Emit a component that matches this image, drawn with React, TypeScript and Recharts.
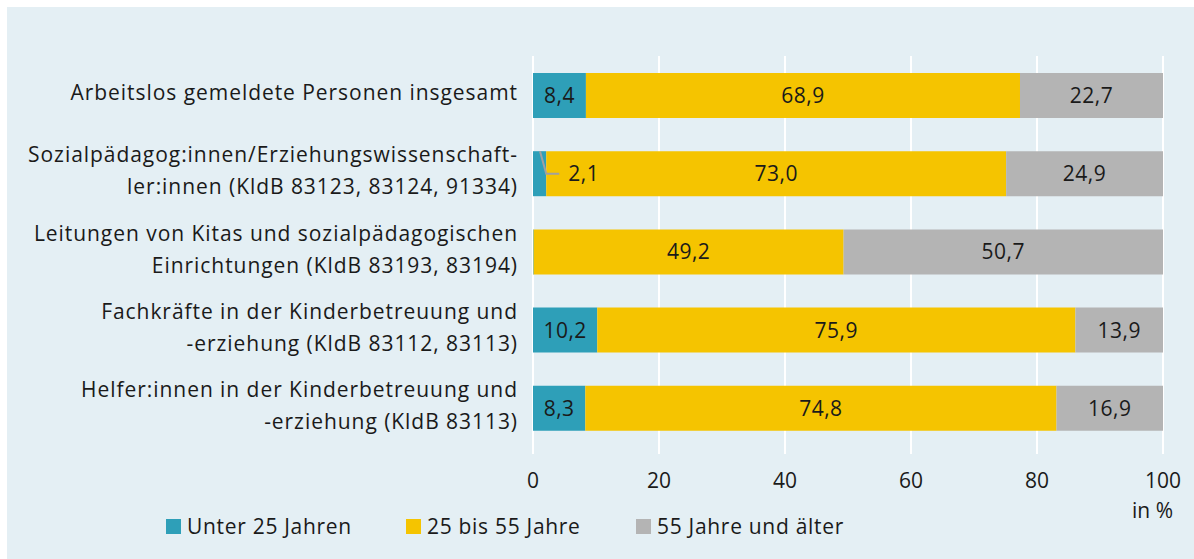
import React from "react";
import { BarChart, Bar, XAxis, YAxis, CartesianGrid, Legend, LabelList } from "recharts";

const categories: string[][] = [
  ["Arbeitslos gemeldete Personen insgesamt"],
  ["Sozialpädagog:innen/Erziehungswissenschaft-", "ler:innen (KldB 83123, 83124, 91334)"],
  ["Leitungen von Kitas und sozialpädagogischen", "Einrichtungen (KldB 83193, 83194)"],
  ["Fachkräfte in der Kinderbetreuung und", "-erziehung (KldB 83112, 83113)"],
  ["Helfer:innen in der Kinderbetreuung und", "-erziehung (KldB 83113)"],
];
const under25 = [8.4, 2.1, 0.1, 10.2, 8.3];
const mid25to55 = [68.9, 73.0, 49.2, 75.9, 74.8];
const over55 = [22.7, 24.9, 50.7, 13.9, 16.9];
const seriesNames = ["Unter 25 Jahren", "25 bis 55 Jahre", "55 Jahre und älter"];
const xTicks = [0, 20, 40, 60, 80, 100];
const unitLabel = "in %";

const COLORS = ["#2e9fb8", "#f5c400", "#b4b4b4"];
const FONT = "'Open Sans', sans-serif";
const TEXT = "#1a1a1a";

const data = categories.map((lines, i) => ({
  name: lines.join("|"),
  a: under25[i],
  b: mid25to55[i],
  c: over55[i],
}));

const fmt = (v: number) => v.toFixed(1).replace(".", ",");

const CategoryTick = (props: any) => {
  const { x, y, payload } = props;
  const lines: string[] = String(payload.value).split("|");
  const n = lines.length;
  return (
    <text x={x} y={y} textAnchor="end" fontFamily={FONT} fontSize={21} letterSpacing={0.95} fill={TEXT}>
      {lines.map((l, i) => (
        <tspan key={i} x={x} y={y + 5 + (i - (n - 1) / 2) * 32}>
          {l}
        </tspan>
      ))}
    </text>
  );
};

const InsideLabel = (props: any) => {
  const { x, y, width, height, value } = props;
  if (value < 1) return null;
  return (
    <text
      x={x + width / 2}
      y={y + height / 2}
      dy="0.36em"
      textAnchor="middle"
      fontFamily={FONT}
      fontSize={21}
      letterSpacing={0.5}
      fill={TEXT}
    >
      {fmt(value)}
    </text>
  );
};

const TealLabel = (props: any) => {
  const { x, y, width, height, value } = props;
  if (value < 1) return null;
  if (value < 5) {
    const my = y + height / 2;
    return (
      <g>
        <polyline
          points={`${x + 7},${y} ${x + width},${my} ${x + width + 13},${my}`}
          fill="none"
          stroke="#a0a0a0"
          strokeWidth={2}
        />
        <text
          x={x + width + 22}
          y={my}
          dy="0.36em"
          textAnchor="start"
          fontFamily={FONT}
          fontSize={21}
          letterSpacing={0.5}
          fill={TEXT}
        >
          {fmt(value)}
        </text>
      </g>
    );
  }
  return <InsideLabel {...props} />;
};

const LegendContent = () => (
  <div style={{ display: "flex", fontFamily: FONT, fontSize: 21, letterSpacing: 0.7, color: TEXT, whiteSpace: "nowrap" }}>
    {seriesNames.map((s, i) => (
      <div key={s} style={{ display: "flex", alignItems: "center", width: [240, 230, 260][i] }}>
        <span style={{ display: "inline-block", width: 15, height: 15, background: COLORS[i], marginRight: 6 }} />
        <span>{s}</span>
      </div>
    ))}
  </div>
);

export default function App() {
  return (
    <div style={{ position: "fixed", left: 0, top: 0, width: 1194, height: 559, background: "#ffffff" }}>
      <div style={{ position: "absolute", left: 7, top: 7, width: 1187, height: 552, background: "#e4eff4" }}>
        <BarChart
          width={1187}
          height={552}
          data={data}
          layout="vertical"
          margin={{ top: 49, right: 31, bottom: 82, left: 0 }}
        >
          <CartesianGrid horizontal={false} vertical={true} stroke="#ffffff" strokeWidth={2} />
          <XAxis
            type="number"
            domain={[0, 100]}
            ticks={xTicks}
            interval={0}
            axisLine={false}
            tickLine={{ stroke: "#ffffff", strokeWidth: 2 }}
            tickSize={7}
            tickMargin={19}
            height={30}
            tick={{ fontFamily: FONT, fontSize: 21, fill: TEXT }}
            label={{
              content: () => (
                <text x={1166} y={511} textAnchor="end" fontFamily={FONT} fontSize={21} fill={TEXT}>
                  {unitLabel}
                </text>
              ),
            }}
          />
          <YAxis
            type="category"
            dataKey="name"
            width={526}
            axisLine={false}
            tickLine={false}
            tickSize={0}
            tickMargin={15}
            interval={0}
            tick={<CategoryTick />}
          />
          <Legend
            layout="horizontal"
            verticalAlign="middle"
            align="center"
            content={<LegendContent />}
            wrapperStyle={{ left: 159, top: 505, width: 760, height: 30 }}
          />
          <Bar dataKey="a" name={seriesNames[0]} stackId="s" fill={COLORS[0]} barSize={45} isAnimationActive={false}>
            <LabelList dataKey="a" content={<TealLabel />} />
          </Bar>
          <Bar dataKey="b" name={seriesNames[1]} stackId="s" fill={COLORS[1]} barSize={45} isAnimationActive={false}>
            <LabelList dataKey="b" content={<InsideLabel />} />
          </Bar>
          <Bar dataKey="c" name={seriesNames[2]} stackId="s" fill={COLORS[2]} barSize={45} isAnimationActive={false}>
            <LabelList dataKey="c" content={<InsideLabel />} />
          </Bar>
        </BarChart>
      </div>
    </div>
  );
}
